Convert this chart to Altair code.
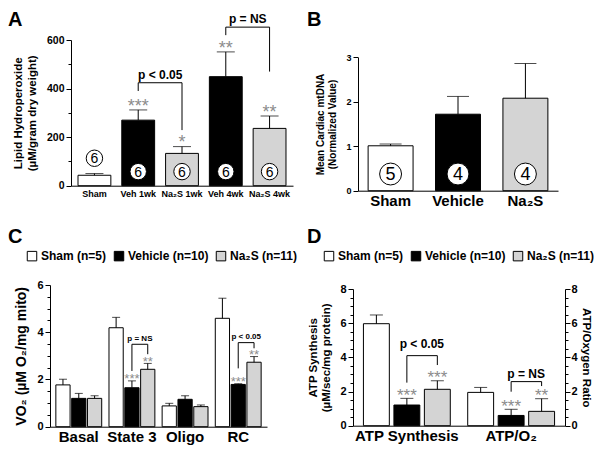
import altair as alt
import pandas as pd

FONT = "Liberation Sans"
W, H = 586, 439
GROUPS = ["Sham", "Vehicle", "Na₂S"]
FILLS = ["#ffffff", "#000000", "#d4d4d4"]
STAR = "#8c8c8c"

# ---------------- Panel A ----------------
a_cats = ["Sham", "Veh 1wk", "Na₂S 1wk", "Veh 4wk", "Na₂S 4wk"]
a_groups = ["Sham", "Vehicle", "Na₂S", "Vehicle", "Na₂S"]
a_mean = [43, 270, 133, 449, 236]
a_err = [50, 312, 161, 551, 287]
a_n = ["6", "6", "6", "6", "6"]
a_stars = ["", "***", "*", "**", "**"]
a_br_left = ["Veh 1wk", "Veh 4wk"]
a_br_right = ["Na₂S 1wk", "Na₂S 4wk"]
a_br_left_low = [390, 620]
a_br_top = [424, 653]
a_br_right_low = [229, 470]
a_br_text = ["p < 0.05", "p = NS"]
a_br_text_y = [456, 688]

# ---------------- Panel B ----------------
b_cats = ["Sham", "Vehicle", "Na₂S"]
b_mean = [1.01, 1.72, 2.08]
b_err = [1.05, 2.12, 2.86]
b_n = ["5", "4", "4"]

# ---------------- Panel C ----------------
series = ["Sham (n=5)", "Vehicle (n=10)", "Na₂S (n=11)"]
c_cats = ["Basal", "State 3", "Oligo", "RC"]
c_sham = [1.77, 4.19, 0.88, 4.59]
c_sham_err = [2.01, 4.63, 0.99, 5.44]
c_veh = [1.20, 1.65, 1.16, 1.79]
c_veh_err = [1.41, 1.94, 1.31, 1.82]
c_na2s = [1.20, 2.43, 0.85, 2.73]
c_na2s_err = [1.31, 2.68, 0.92, 2.97]
c_veh_stars = ["", "***", "", "***"]
c_na2s_stars = ["", "**", "", "**"]
c_br_cat = ["State 3", "RC"]
c_br_left_low = [2.36, 2.47]
c_br_top = [3.49, 3.56]
c_br_right_low = [3.07, 3.32]
c_br_text = ["p = NS", "p < 0.05"]
c_br_text_y = [3.70, 3.78]

# ---------------- Panel D ----------------
d_cats = ["ATP Synthesis", "ATP/O₂"]
d_sham = [5.97, 1.95]
d_sham_err = [6.48, 2.24]
d_veh = [1.21, 0.60]
d_veh_err = [1.60, 0.96]
d_na2s = [2.13, 0.84]
d_na2s_err = [2.63, 1.58]
d_veh_stars = ["***", "***"]
d_na2s_stars = ["***", "**"]
d_br_cat = ["ATP Synthesis", "ATP/O₂"]
d_br_left_low = [2.52, 1.99]
d_br_top = [4.10, 2.58]
d_br_right_low = [3.55, 2.32]
d_br_text = ["p < 0.05", "p = NS"]
d_br_text_y = [4.80, 3.00]


# ---------------- helpers ----------------
def y_axis(title, offset, values, lfs, tfs, tpad, orient="left", lpad=2):
    return alt.Axis(title=title, orient=orient, offset=offset, values=values, format="d",
                    tickSize=5, labelFontSize=lfs, titleFontSize=tfs, titlePadding=tpad,
                    labelPadding=lpad, grid=False)


def minor_axis(offset, values, orient="left"):
    return alt.Axis(title=None, orient=orient, offset=offset, values=values, labels=False,
                    domain=False, tickSize=3, grid=False)


def x_axis(offset, lfs, lpad):
    return alt.Axis(title=None, orient="bottom", offset=offset, labelAngle=0, ticks=False,
                    labelFontSize=lfs, labelPadding=lpad, grid=False)


def grouped_long(cats, means, errs, stars):
    rows = []
    for i, c in enumerate(cats):
        for s, m, e, st in zip(series, [mm[i] for mm in means], [ee[i] for ee in errs],
                               [ss[i] for ss in stars]):
            rows.append(dict(cat=c, series=s, mean=m, err=e, star=st))
    return pd.DataFrame(rows)


def grouped_brackets(cats, llow, top, rlow):
    rows = []
    for k, c in enumerate(cats):
        rows += [dict(k=k, o=0, cat=c, series=series[1], y=llow[k]),
                 dict(k=k, o=1, cat=c, series=series[1], y=top[k]),
                 dict(k=k, o=2, cat=c, series=series[2], y=top[k]),
                 dict(k=k, o=3, cat=c, series=series[2], y=rlow[k])]
    return pd.DataFrame(rows)


# ---------------- Panel A chart ----------------
dfA = pd.DataFrame(dict(cat=a_cats, grp=a_groups, mean=a_mean, err=a_err, n=a_n, star=a_stars))
dfA["ny"] = [m + 70 if m < 100 else 58 for m in a_mean]
dfA["sy"] = dfA["err"] + 34
brA_rows = []
for k in range(len(a_br_top)):
    brA_rows += [dict(k=k, o=0, cat=a_br_left[k], y=a_br_left_low[k]),
                 dict(k=k, o=1, cat=a_br_left[k], y=a_br_top[k]),
                 dict(k=k, o=2, cat=a_br_right[k], y=a_br_top[k]),
                 dict(k=k, o=3, cat=a_br_right[k], y=a_br_right_low[k])]
brA = pd.DataFrame(brA_rows)
brtA = pd.DataFrame(dict(cat=a_br_left, y=a_br_text_y, t=a_br_text))

xA = alt.X("cat:N", sort=a_cats,
           scale=alt.Scale(range=[63, 285], paddingInner=0.25, paddingOuter=0.16),
           axis=x_axis(177.7 - H, 9, 4))
ysA = alt.Scale(domain=[0, 600], range=[177.7, 32], nice=False)
yaA = y_axis(["Lipid Hydroperoxide", "(µM/gram dry weight)"], -63, [0, 200, 400, 600], 10.5, 11.5, 9)


def yA(f):
    return alt.Y(f, scale=ysA, axis=yaA)


fillA = alt.Fill("grp:N", scale=alt.Scale(domain=GROUPS, range=FILLS), legend=None)
bA = alt.Chart(dfA)
A_core = alt.layer(
    bA.mark_bar(stroke="black", strokeWidth=1).encode(x=xA, y=yA("mean:Q"), fill=fillA),
    bA.mark_rule(color="black").encode(x=xA, y=yA("mean:Q"), y2="err:Q"),
    bA.mark_tick(color="black", thickness=1, size=18).encode(x=xA, y=yA("err:Q")),
    bA.mark_circle(size=270, fill="white", stroke="black", strokeWidth=1, opacity=1).encode(x=xA, y=yA("ny:Q")),
    bA.mark_text(fontSize=14, baseline="middle", dy=1).encode(x=xA, y=yA("ny:Q"), text="n:N"),
    bA.transform_filter("datum.star != ''").mark_text(color=STAR, fontSize=18, baseline="alphabetic", dy=10)
      .encode(x=xA, y=yA("sy:Q"), text="star:N"),
    alt.Chart(brA).mark_line(color="black", strokeWidth=1).encode(x=xA, y=yA("y:Q"), detail="k:N", order="o:Q"),
    alt.Chart(brtA).mark_text(fontWeight="bold", fontSize=12, dx=22, baseline="middle")
      .encode(x=xA, y=yA("y:Q"), text="t:N"),
)
A_minor = bA.mark_point(opacity=0).encode(y=alt.Y("mean:Q", scale=ysA, axis=minor_axis(-63, [100, 300, 500])))
A = alt.layer(A_core, A_minor).resolve_axis(y="independent")

# ---------------- Panel B chart ----------------
dfB = pd.DataFrame(dict(cat=b_cats, grp=GROUPS, mean=b_mean, err=b_err, n=b_n))
dfB["ny"] = 0.375
xB = alt.X("cat:N", sort=b_cats,
           scale=alt.Scale(range=[350, 550], paddingInner=0.333, paddingOuter=0.15),
           axis=x_axis(182.7 - H, 15, 3))
ysB = alt.Scale(domain=[0, 3], range=[182.7, 49.3], nice=False)
yaB = y_axis(["Mean Cardiac mtDNA", "(Normalized Value)"], -350, [0, 1, 2, 3], 9, 10, 8)


def yB(f):
    return alt.Y(f, scale=ysB, axis=yaB)


fillB = alt.Fill("grp:N", scale=alt.Scale(domain=GROUPS, range=FILLS), legend=None)
bB = alt.Chart(dfB)
B = alt.layer(
    bB.mark_bar(stroke="black", strokeWidth=1).encode(x=xB, y=yB("mean:Q"), fill=fillB),
    bB.mark_rule(color="black").encode(x=xB, y=yB("mean:Q"), y2="err:Q"),
    bB.mark_tick(color="black", thickness=1, size=22).encode(x=xB, y=yB("err:Q")),
    bB.mark_circle(size=480, fill="white", stroke="black", strokeWidth=1, opacity=1).encode(x=xB, y=yB("ny:Q")),
    bB.mark_text(fontSize=18, baseline="middle", dy=1).encode(x=xB, y=yB("ny:Q"), text="n:N"),
)

# ---------------- Panel C chart ----------------
dfC = grouped_long(c_cats, [c_sham, c_veh, c_na2s], [c_sham_err, c_veh_err, c_na2s_err],
                   [[""] * 4, c_veh_stars, c_na2s_stars])
dfC["sy"] = dfC["err"] + 0.22
brC = grouped_brackets(c_br_cat, c_br_left_low, c_br_top, c_br_right_low)
brtC = pd.DataFrame(dict(cat=c_br_cat, series=series[1], y=c_br_text_y, t=c_br_text))

xC = alt.X("cat:N", sort=c_cats,
           scale=alt.Scale(range=[42, 259], paddingInner=0.137, paddingOuter=0.11),
           axis=x_axis(418.7 - H, 15, 3))
xoC = alt.XOffset("series:N", sort=series, scale=alt.Scale(domain=series, paddingInner=0.1))
ysC = alt.Scale(domain=[0, 6], range=[418.7, 277], nice=False)
yaC = y_axis("VO₂ (µM O₂/mg mito)", -42, [0, 2, 4, 6], 11, 14, 8)


def yC(f):
    return alt.Y(f, scale=ysC, axis=yaC)


legend_kw = dict(orient="none", direction="horizontal", title=None, symbolType="square",
                 symbolSize=90, symbolStrokeColor="black", symbolStrokeWidth=1,
                 labelFontSize=12, labelFontWeight="bold", labelColor="black",
                 columnPadding=5, labelOffset=3, padding=0)
fillC = alt.Fill("series:N", sort=series, scale=alt.Scale(domain=series, range=FILLS),
                 legend=alt.Legend(legendX=18, legendY=242, **legend_kw))
bC = alt.Chart(dfC)
C_core = alt.layer(
    bC.mark_bar(stroke="black", strokeWidth=1).encode(x=xC, xOffset=xoC, y=yC("mean:Q"), fill=fillC),
    bC.mark_rule(color="black").encode(x=xC, xOffset=xoC, y=yC("mean:Q"), y2="err:Q"),
    bC.mark_tick(color="black", thickness=1, size=8).encode(x=xC, xOffset=xoC, y=yC("err:Q")),
    bC.transform_filter("datum.star != ''").mark_text(color=STAR, fontSize=13, baseline="alphabetic", dy=7.5)
      .encode(x=xC, xOffset=xoC, y=yC("sy:Q"), text="star:N"),
    alt.Chart(brC).mark_line(color="black", strokeWidth=1)
      .encode(x=xC, xOffset=xoC, y=yC("y:Q"), detail="k:N", order="o:Q"),
    alt.Chart(brtC).mark_text(fontWeight="bold", fontSize=8, dx=8, baseline="middle")
      .encode(x=xC, xOffset=xoC, y=yC("y:Q"), text="t:N"),
)
C_minor = bC.mark_point(opacity=0).encode(
    y=alt.Y("mean:Q", scale=ysC, axis=minor_axis(-42, [0.5, 1, 1.5, 2.5, 3, 3.5, 4.5, 5, 5.5])))
C = alt.layer(C_core, C_minor).resolve_axis(y="independent")

# ---------------- Panel D chart ----------------
dfD = grouped_long(d_cats, [d_sham, d_veh, d_na2s], [d_sham_err, d_veh_err, d_na2s_err],
                   [[""] * 2, d_veh_stars, d_na2s_stars])
dfD["sy"] = dfD["err"] + 0.42
brD = grouped_brackets(d_br_cat, d_br_left_low, d_br_top, d_br_right_low)
brtD = pd.DataFrame(dict(cat=d_br_cat, series=series[1], y=d_br_text_y, t=d_br_text))

D_RIGHT = 557
xD = alt.X("cat:N", sort=d_cats,
           scale=alt.Scale(range=[345, D_RIGHT], paddingInner=0.167, paddingOuter=0.1),
           axis=x_axis(417.7 - H, 15, 3))
xoD = alt.XOffset("series:N", sort=series, scale=alt.Scale(domain=series, paddingInner=0.15))
ysD = alt.Scale(domain=[0, 8], range=[417.7, 281], nice=False)
yaD = y_axis(["ATP Synthesis", "(µM/sec/mg protein)"], -345, [0, 2, 4, 6, 8], 11, 11.5, 8)


def yD(f):
    return alt.Y(f, scale=ysD, axis=yaD)


fillD = alt.Fill("series:N", sort=series, scale=alt.Scale(domain=series, range=FILLS),
                 legend=alt.Legend(legendX=315, legendY=242, **legend_kw))
bD = alt.Chart(dfD)
D_core = alt.layer(
    bD.mark_bar(stroke="black", strokeWidth=1).encode(x=xD, xOffset=xoD, y=yD("mean:Q"), fill=fillD),
    bD.mark_rule(color="black").encode(x=xD, xOffset=xoD, y=yD("mean:Q"), y2="err:Q"),
    bD.mark_tick(color="black", thickness=1, size=13).encode(x=xD, xOffset=xoD, y=yD("err:Q")),
    bD.transform_filter("datum.star != ''").mark_text(color=STAR, fontSize=17, baseline="alphabetic", dy=9.5)
      .encode(x=xD, xOffset=xoD, y=yD("sy:Q"), text="star:N"),
    alt.Chart(brD).mark_line(color="black", strokeWidth=1)
      .encode(x=xD, xOffset=xoD, y=yD("y:Q"), detail="k:N", order="o:Q"),
    alt.Chart(brtD).mark_text(fontWeight="bold", fontSize=12, dx=15, baseline="middle")
      .encode(x=xD, xOffset=xoD, y=yD("y:Q"), text="t:N"),
)
D_minor_vals = [0.5, 1, 1.5, 2.5, 3, 3.5, 4.5, 5, 5.5, 6.5, 7, 7.5]
D_minor = bD.mark_point(opacity=0).encode(
    y=alt.Y("mean:Q", scale=ysD, axis=minor_axis(-345, D_minor_vals)))
D_right = bD.mark_point(opacity=0).encode(
    y=alt.Y("mean:Q", scale=ysD,
            axis=y_axis("ATP/Oxygen Ratio", D_RIGHT - W, [0, 2, 4, 6, 8], 11, 11.5, 3,
                        orient="right", lpad=1)))
D_right_minor = bD.mark_point(opacity=0).encode(
    y=alt.Y("mean:Q", scale=ysD, axis=minor_axis(D_RIGHT - W, D_minor_vals, orient="right")))
D = alt.layer(D_core, D_minor, D_right, D_right_minor).resolve_axis(y="independent")

# ---------------- panel letters ----------------
letters = []
for t, px, py in [("A", 0, 18), ("B", 299, 18), ("C", 0, 235), ("D", 299, 235)]:
    letters.append(
        alt.Chart(pd.DataFrame({"t": [t]})).mark_text(fontSize=20, fontWeight="bold", align="left",
                                                      baseline="alphabetic")
        .encode(text="t:N", x=alt.value(px), y=alt.value(py))
    )

chart = (
    alt.layer(A, B, C, D, *letters)
    .resolve_scale(x="independent", y="independent", fill="independent", xOffset="independent")
    .properties(width=W, height=H, padding=0, autosize=alt.AutoSizeParams(type="none"))
    .configure_view(stroke=None)
    .configure_axis(labelFont=FONT, titleFont=FONT, labelFontWeight="bold", titleFontWeight="bold",
                    labelColor="black", titleColor="black", domainColor="black", tickColor="black",
                    domainWidth=1, tickWidth=1)
    .configure_text(font=FONT)
    .configure_legend(labelFont=FONT)
)

chart.save("out.html", embed_options={"renderer": "svg", "actions": False})
